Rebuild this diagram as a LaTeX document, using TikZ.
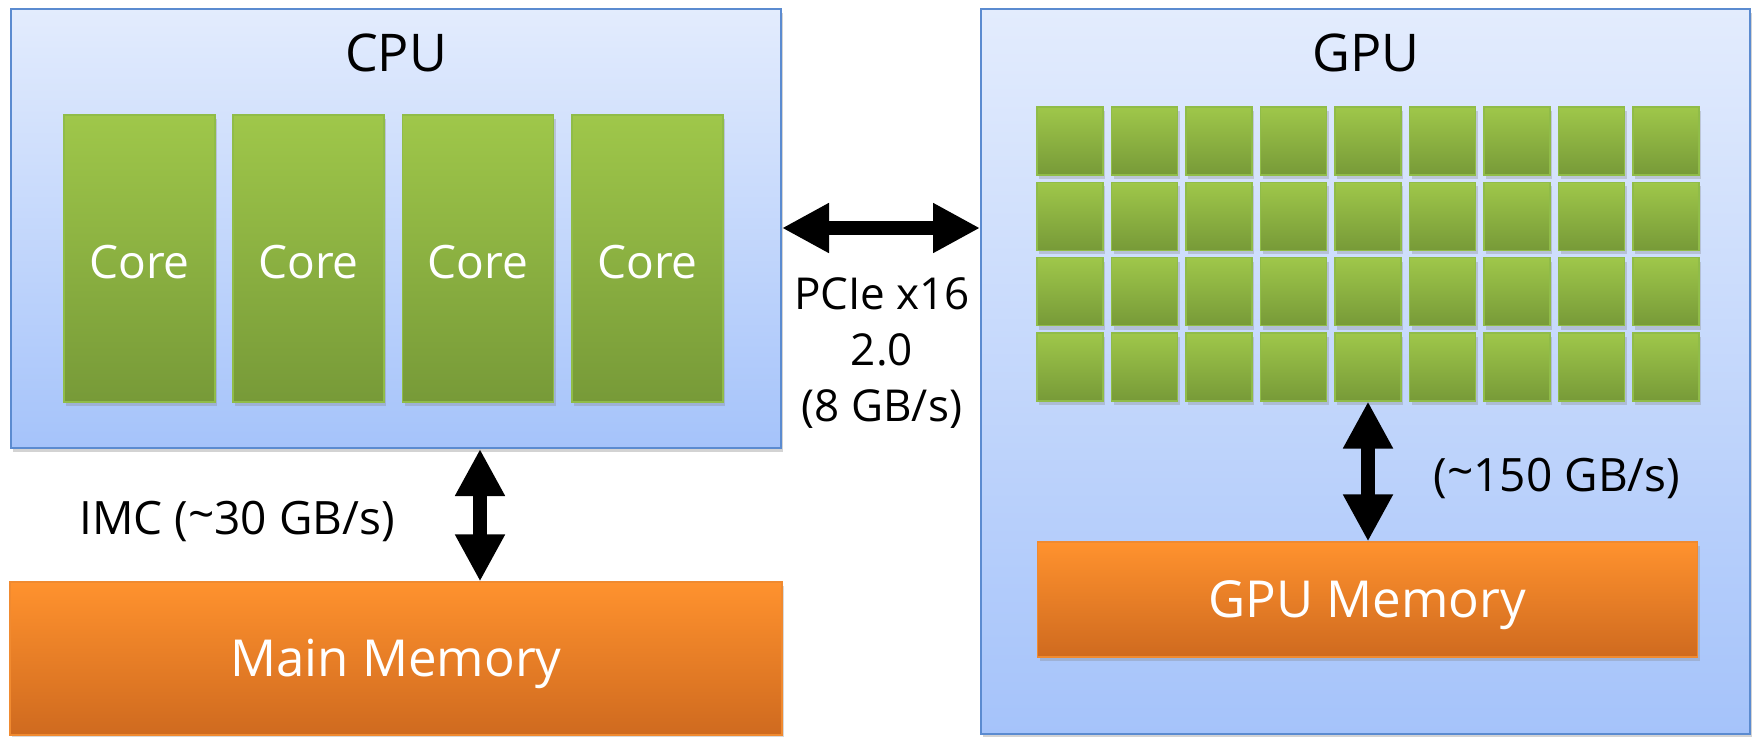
\documentclass[tikz,border=0pt]{standalone}
\usepackage{fontspec}
\setmainfont{Open Sans}
\usetikzlibrary{arrows.meta,shadows}
\definecolor{bluetop}{HTML}{E3ECFD}
\definecolor{bluebot}{HTML}{A5C3FA}
\definecolor{blueline}{HTML}{5B8BD0}
\definecolor{greentop}{HTML}{9FC74A}
\definecolor{greenbot}{HTML}{779A38}
\definecolor{greenline}{HTML}{90BC48}
\definecolor{orangetop}{HTML}{FF922E}
\definecolor{orangebot}{HTML}{CF6A1F}
\definecolor{orangeline}{HTML}{F08A30}
\tikzset{
  chip/.style={draw=blueline, line width=1pt, top color=bluetop, bottom color=bluebot,
    drop shadow={opacity=0.35, shadow xshift=1pt, shadow yshift=-2pt}, inner sep=0pt},
  corebox/.style={draw=greenline, line width=0.6pt, top color=greentop, bottom color=greenbot,
    drop shadow={opacity=0.3, shadow xshift=1pt, shadow yshift=-2pt}, inner sep=0pt,
    text=white, font=\fontsize{23}{27}\selectfont, text height=19.8pt, text depth=0pt},
  membox/.style={draw=orangeline, line width=0.6pt, top color=orangetop, bottom color=orangebot,
    drop shadow={opacity=0.3, shadow xshift=1pt, shadow yshift=-2pt}, inner sep=0pt,
    text=white, font=\fontsize{25.5}{30}\selectfont, text height=18.2pt, text depth=0pt},
  title/.style={font=\fontsize{26}{30}\selectfont, inner sep=0pt},
  lbl/.style={font=\fontsize{23}{29.5}\selectfont, inner sep=0pt, align=center},
  pcilbl/.style={font=\fontsize{22}{28}\selectfont, inner sep=0pt, align=center},
  bigarrow/.style={line width=7pt, {Triangle[width=23.5pt,length=23.5pt]}-{Triangle[width=23.5pt,length=23.5pt]}}
}
\begin{document}
\begin{tikzpicture}[x=0.5pt,y=-0.5pt]
\useasboundingbox (0,0) rectangle (1756,736);
% CPU
\node[chip, minimum width=385pt, minimum height=219.5pt] (cpu) at (396,228.5) {};
\node[title] (cputitle) at (396,53) {CPU};
\foreach \i/\x in {1/139.5,2/308.5,3/478,4/647.5}{
  \node[corebox, minimum width=75.5pt, minimum height=143.5pt] (core\i) at (\x,258.5) {Core};
}
% Main memory
\node[membox, minimum width=386pt, minimum height=76.5pt] (mainmem) at (396,658.5) {Main Memory};
% GPU
\node[chip, minimum width=384.5pt, minimum height=362.5pt] (gpu) at (1365.5,371.5) {};
\node[title] (gputitle) at (1366,53) {GPU};
\foreach \r in {1,...,4}{
  \foreach \c in {1,...,9}{
    \node[corebox, minimum width=33pt, minimum height=34pt] (g-\r-\c)
      at ({1070+(\c-1)*74.5},{141+(\r-1)*75.3}) {};
  }
}
\node[membox, minimum width=330pt, minimum height=57.5pt] (gpumem) at (1367.5,599.5) {GPU Memory};
% connectors
\coordinate (imcx) at (480,0);
\coordinate (pcy) at (0,228);
\draw[bigarrow] (cpu.south -| imcx) -- (mainmem.north -| imcx);
\draw[bigarrow] (cpu.east |- pcy) -- (gpu.west |- pcy);
\draw[bigarrow] (g-4-5.south) -- (gpumem.north -| g-4-5.south);
% labels
\node[lbl] (imclbl) at (237,521) {IMC (\raisebox{0.15ex}{\char`~}30 GB/s)};
\node[lbl] (gpulbl) at (1557,478) {(\raisebox{0.15ex}{\char`~}150 GB/s)};
\node[pcilbl] (pcilbl) at (882,353) {PCIe x16\\2.0\\(8 GB/s)};
\end{tikzpicture}
\end{document}
